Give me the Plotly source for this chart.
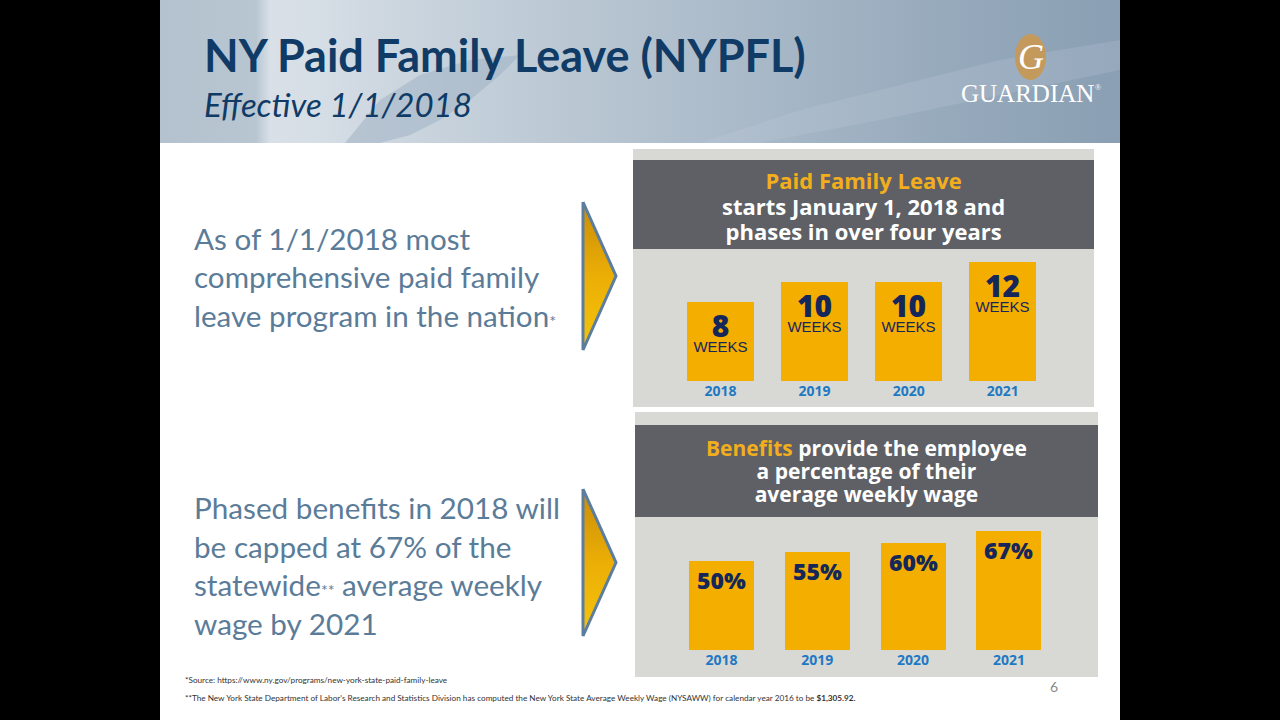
import plotly.graph_objects as go

# ---------------- data ----------------
years = ["2018", "2019", "2020", "2021"]
leave_weeks = [8, 10, 10, 12]
benefit_pct = [50, 55, 60, 67]

title = "NY Paid Family Leave (NYPFL)"
subtitle = "Effective 1/1/2018"
left_block1 = ["As of 1/1/2018 most", "comprehensive paid family",
               "leave program in the nation<span style='font-size:16px'>*</span>"]
left_block2 = ["Phased benefits in 2018 will", "be capped at 67% of the",
               "statewide<span style='font-size:16px'>**</span> average weekly", "wage by 2021"]
chart1_header = ["<span style='color:#F2AE1C'>Paid Family Leave</span>",
                 "starts January 1, 2018 and", "phases in over four years"]
chart2_header = ["<span style='color:#F2AE1C'>Benefits</span> provide the employee",
                 "a percentage of their", "average weekly wage"]
footnote1 = "*Source: https://www.ny.gov/programs/new-york-state-paid-family-leave"
footnote2 = ("**The New York State Department of Labor's Research and Statistics Division has computed "
             "the New York State Average Weekly Wage (NYSAWW) for calendar year 2016 to be <b>$1,305.92.</b>")
page_no = "6"

# ---------------- helpers ----------------
W, H = 1280, 720
def px(x): return x / W
def py(y): return 1 - y / H

NAVY = "#0F3B66"
BODY = "#5B7C99"
BAR = "#F4AE00"
NUM = "#15265A"
YEAR = "#1F78C2"
PANEL = "#D8D8D5"
DARK = "#5E6065"
GFONT = "Lato, 'Open Sans', sans-serif"
HFONT = "'Open Sans', 'Noto Sans', sans-serif"

fig = go.Figure()

# ---------- decoration subplot (pixel space) ----------
fig.add_trace(go.Scatter(
    x=[160, 1120, 1120, 160, 160], y=[0, 0, 143, 143, 0], mode="lines",
    line=dict(width=0), fill="toself",
    fillgradient=dict(type="horizontal", colorscale=[
        [0.0, "#B4C2CF"], [0.10, "#B8C6D2"], [0.115, "#D9E0E7"], [0.16, "#D6DEE6"],
        [0.3, "#C6D1DB"], [0.55, "#AFBECC"], [0.8, "#98ABBD"], [1.0, "#8A9FB3"]]),
    hoverinfo="skip", xaxis="x", yaxis="y"))
fig.add_trace(go.Scatter(
    x=[345, 380, 420, 470, 520, 500, 470, 440, 410, 380, 360, 345],
    y=[143, 100, 75, 60, 55, 75, 100, 120, 135, 143, 143, 143],
    mode="lines", line=dict(width=0), fill="toself", fillcolor="rgba(160,178,196,0.55)",
    hoverinfo="skip", xaxis="x", yaxis="y"))
fig.add_trace(go.Scatter(
    x=[700, 800, 900, 1000, 1120, 1120, 1000, 880, 760, 700],
    y=[143, 110, 85, 60, 40, 70, 95, 120, 143, 143],
    mode="lines", line=dict(width=0), fill="toself", fillcolor="rgba(200,212,224,0.2)",
    hoverinfo="skip", xaxis="x", yaxis="y"))

# arrows
for (ytop, ybot) in [(202, 350), (489, 636)]:
    ymid = (ytop + ybot) / 2
    fig.add_trace(go.Scatter(
        x=[583, 616, 583, 583], y=[ytop, ymid, ybot, ytop], mode="lines",
        line=dict(width=3, color="#5C7E9E"), fill="toself",
        fillgradient=dict(type="vertical", colorscale=[[0, "#F6C40C"], [0.5, "#EBAE06"], [1, "#C98C08"]]),
        hoverinfo="skip", xaxis="x", yaxis="y"))

# ---------- bar chart 1: weeks ----------
fig.add_trace(go.Bar(
    x=years, y=leave_weeks, marker=dict(color=BAR, line=dict(width=0)), width=0.71,
    text=[f"<span style='font-size:30px;font-weight:800;font-family:\"Open Sans\"'>{w}</span>"
          f"<br><span style='font-size:15px'>WEEKS</span>" for w in leave_weeks],
    textposition="inside", insidetextanchor="end", constraintext="none",
    textfont=dict(family="'Liberation Sans', Arial, sans-serif", size=11.5, color=NUM),
    hoverinfo="skip", xaxis="x2", yaxis="y2"))

# ---------- bar chart 2: percentage ----------
fig.add_trace(go.Bar(
    x=years, y=benefit_pct, marker=dict(color=BAR, line=dict(width=0)), width=0.68,
    text=[f"{p}%" for p in benefit_pct],
    textposition="inside", insidetextanchor="end", constraintext="none",
    textfont=dict(family=HFONT, size=23, color=NUM, weight=800),
    hoverinfo="skip", xaxis="x3", yaxis="y3"))

# ---------- shapes ----------
shapes = [
    dict(type="rect", xref="paper", yref="paper", x0=px(160), x1=px(1120), y0=py(720), y1=py(0),
         fillcolor="white", line=dict(width=0), layer="below"),
    dict(type="rect", xref="paper", yref="paper", x0=px(633), x1=px(1094), y0=py(407), y1=py(149),
         fillcolor=PANEL, line=dict(width=0), layer="below"),
    dict(type="rect", xref="paper", yref="paper", x0=px(633), x1=px(1094), y0=py(249), y1=py(160),
         fillcolor=DARK, line=dict(width=0), layer="below"),
    dict(type="rect", xref="paper", yref="paper", x0=px(635), x1=px(1098), y0=py(677), y1=py(412),
         fillcolor=PANEL, line=dict(width=0), layer="below"),
    dict(type="rect", xref="paper", yref="paper", x0=px(635), x1=px(1098), y0=py(517), y1=py(425),
         fillcolor=DARK, line=dict(width=0), layer="below"),
    dict(type="circle", xref="paper", yref="paper", x0=px(1015), x1=px(1046), y0=py(80), y1=py(34),
         fillcolor="#C49A5C", line=dict(width=0), layer="above"),
]

# ---------- annotations ----------
ann = []
def text(x, y, s, size, color, family=GFONT, weight="normal", style="normal", xanchor="left", align="left"):
    ann.append(dict(xref="paper", yref="paper", x=px(x), y=py(y), text=s, showarrow=False,
                    xanchor=xanchor, yanchor="middle", align=align,
                    font=dict(size=size, color=color, family=family, weight=weight, style=style)))

text(202, 55, title, 45, NAVY, weight="bold")
text(202, 104, subtitle, 33, NAVY, style="italic")

# body text blocks (line pitch 38.5 px -> base size 38.5/1.3)
text(192, 277, "<br>".join(left_block1), 29.6, BODY)
text(192, 565, "<br>".join(left_block2), 29.7, BODY)

# chart headers: base size sets line pitch, span sets glyph size
def block(lines, glyph):
    return "<br>".join(f"<span style='font-size:{glyph}px'>{l}</span>" for l in lines)
text(863, 205, block(chart1_header, 22), 25.5 / 1.3, "white", family=HFONT, weight="bold",
     xanchor="center", align="center")
text(866, 471, block(chart2_header, 21), 23 / 1.3, "white", family=HFONT, weight="bold",
     xanchor="center", align="center")

text(183, 680, footnote1, 8.2, "#333333")
text(183, 698, footnote2, 8.2, "#333333")
text(1054, 686, page_no, 14, "#8A8A8A", xanchor="center")

text(1031, 57, "<i>G</i>", 36, "white", family="'Liberation Serif', serif", xanchor="center")
text(1027, 94, "GUARDIAN", 25, "white", family="'Liberation Serif', serif", xanchor="center")
text(1098, 87, "®", 8, "white", family="'Liberation Serif', serif", xanchor="center")

# ---------- layout ----------
top_base, top_head = 381, 249
bot_base, bot_head = 650, 517
fig.update_layout(
    width=W, height=H, margin=dict(l=0, r=0, t=0, b=0),
    paper_bgcolor="black", plot_bgcolor="rgba(0,0,0,0)", showlegend=False,
    shapes=shapes, annotations=ann, bargap=0,
    xaxis=dict(domain=[0, 1], range=[0, W], visible=False, fixedrange=True),
    yaxis=dict(domain=[0, 1], range=[H, 0], visible=False, fixedrange=True),
    xaxis2=dict(domain=[px(633), px(1094)], range=[-0.93, 3.97], type="category",
                showgrid=False, zeroline=False, showline=False, ticks="",
                tickfont=dict(family=HFONT, size=14, color=YEAR, weight="bold"), anchor="y2"),
    yaxis2=dict(domain=[py(top_base), py(top_head)], range=[0, (top_base - top_head) / 9.9],
                visible=False, anchor="x2"),
    xaxis3=dict(domain=[px(635), px(1098)], range=[-0.903, 3.93], type="category",
                showgrid=False, zeroline=False, showline=False, ticks="",
                tickfont=dict(family=HFONT, size=14, color=YEAR, weight="bold"), anchor="y3"),
    yaxis3=dict(domain=[py(bot_base), py(bot_head)], range=[0, (bot_base - bot_head) / 1.78],
                visible=False, anchor="x3"),
)

fig.write_html("out.html", config={"displayModeBar": False},
               post_script="document.body.style.margin='0';")
